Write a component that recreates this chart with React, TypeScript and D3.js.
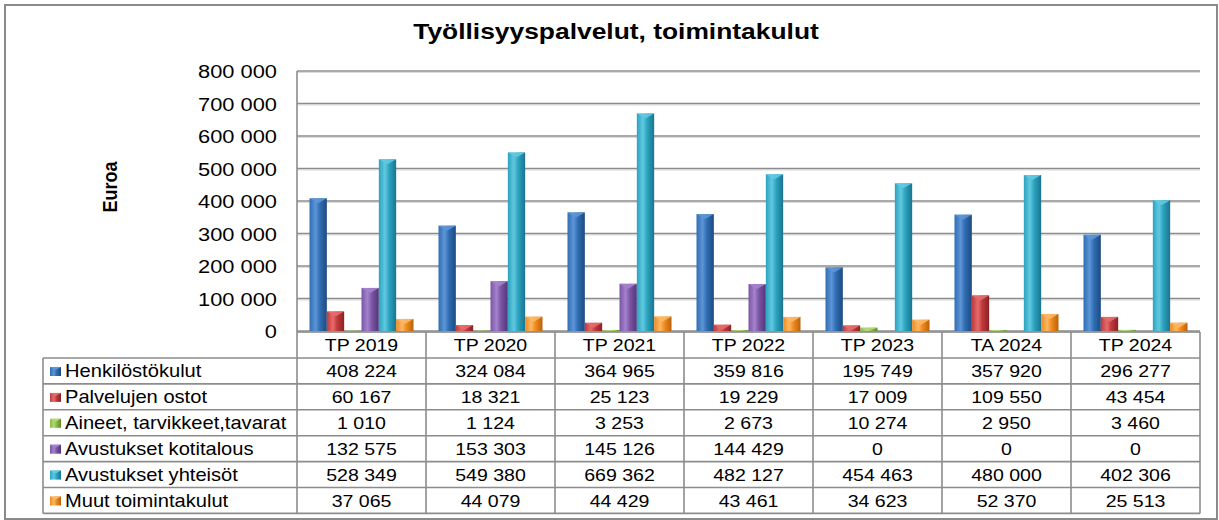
import React from 'react';
import * as d3 from 'd3';

const categories = ['TP 2019', 'TP 2020', 'TP 2021', 'TP 2022', 'TP 2023', 'TA 2024', 'TP 2024'];
const seriesNames = [
  'Henkilöstökulut',
  'Palvelujen ostot',
  'Aineet, tarvikkeet,tavarat',
  'Avustukset kotitalous',
  'Avustukset yhteisöt',
  'Muut toimintakulut',
];
const henkilosto = [408224, 324084, 364965, 359816, 195749, 357920, 296277];
const palvelut = [60167, 18321, 25123, 19229, 17009, 109550, 43454];
const aineet = [1010, 1124, 3253, 2673, 10274, 2950, 3460];
const kotitalous = [132575, 153303, 145126, 144429, 0, 0, 0];
const yhteisot = [528349, 549380, 669362, 482127, 454463, 480000, 402306];
const muut = [37065, 44079, 44429, 43461, 34623, 52370, 25513];
const seriesValues = [henkilosto, palvelut, aineet, kotitalous, yhteisot, muut];
const yTicks = [0, 100000, 200000, 300000, 400000, 500000, 600000, 700000, 800000];

// base, light, dark
const palette = [
  ['#2f6db3', '#5d95d6', '#1d4a80'],
  ['#c0393b', '#e56c6c', '#8a2224'],
  ['#8bb843', '#b3d877', '#5f8a25'],
  ['#7a55a5', '#a482cc', '#553477'],
  ['#2aa3bf', '#62c9e0', '#1b7490'],
  ['#f08a1d', '#fbb866', '#b8620c'],
];

const fmt = (v: number) => d3.format(',')(v).replace(/,/g, ' ');
const SX = 1.15;

const plotL = 297;
const plotR = 1200;
const plotT = 71;
const plotB = 331;
const legendL = 43;
const headTop = 332;
const headBot = 358;
const rowH = 25.9;

export default function App() {
  const x = d3.scaleBand<string>().domain(categories).range([plotL, plotR]);
  const y = d3.scaleLinear().domain([0, 800000]).range([plotB, plotT]);
  const inner = d3
    .scaleBand<number>()
    .domain(d3.range(seriesNames.length))
    .range([12.5, x.bandwidth() - 12.5]);

  const tableBot = headBot + rowH * seriesNames.length;
  const font = 'Arial, "Liberation Sans", sans-serif';

  const sText = (
    key: string,
    tx: number,
    ty: number,
    s: string,
    anchor: string,
    size = 17
  ) => (
    <text
      key={key}
      transform={`translate(${tx},${ty}) scale(${SX},1)`}
      textAnchor={anchor}
      fontSize={size}
      fill="#000"
    >
      {s}
    </text>
  );

  return (
    <svg
      width={1219}
      height={520}
      style={{ position: 'absolute', left: 0, top: 0, fontFamily: font }}
    >
      <defs>
        {palette.map((c, i) => (
          <linearGradient key={i} id={`g${i}`} x1="0" x2="1" y1="0" y2="0">
            <stop offset="0" stopColor={c[0]} />
            <stop offset="0.35" stopColor={c[1]} />
            <stop offset="0.6" stopColor={c[0]} />
            <stop offset="1" stopColor={c[2]} />
          </linearGradient>
        ))}
      </defs>
      <rect x={0} y={0} width={1219} height={520} fill="#fff" />
      <rect x={5} y={5} width={1212} height={514} fill="none" stroke="#8a8a8a" strokeWidth={2} />

      <text
        transform={`translate(616,39) scale(1.2,1)`}
        textAnchor="middle"
        fontSize={22}
        fontWeight="bold"
      >
        Työllisyyspalvelut, toimintakulut
      </text>

      <text
        transform={`translate(117,187) rotate(-90) scale(1,1.15)`}
        textAnchor="middle"
        fontSize={18}
        fontWeight="bold"
      >
        Euroa
      </text>

      {/* gridlines */}
      {yTicks.map((t) => (
        <g key={t}>
          <line x1={plotL} x2={plotR} y1={y(t) + 1.5} y2={y(t) + 1.5} stroke="#dcdcdc" strokeWidth={1} />
          <line x1={plotL} x2={plotR} y1={y(t)} y2={y(t)} stroke="#8c8c8c" strokeWidth={1.6} />
        </g>
      ))}
      <line x1={plotL} x2={plotL} y1={plotT} y2={tableBot} stroke="#8c8c8c" strokeWidth={1.6} />

      {yTicks.map((t) =>
        sText(`t${t}`, 277, y(t) + 7, t === 0 ? '0' : fmt(t), 'end', 19)
      )}

      {/* bars */}
      {categories.map((c, ci) =>
        seriesValues.map((vals, si) => {
          const v = vals[ci];
          if (v <= 0) return null;
          const bx = (x(c) as number) + (inner(si) as number);
          const bw = inner.bandwidth();
          const by = y(v);
          const bh = plotB - by;
          const cap = Math.min(5, bh);
          return (
            <g key={`${ci}-${si}`}>
              <rect x={bx} y={by} width={bw} height={bh} fill={`url(#g${si})`} />
              <polygon
                points={`${bx},${by} ${bx + bw},${by} ${bx + bw / 2},${by + cap}`}
                fill={palette[si][1]}
                opacity={0.9}
              />
            </g>
          );
        })
      )}

      {/* data table */}
      <g stroke="#8c8c8c" strokeWidth={1.6} fill="none">
        <line x1={plotL} x2={plotR} y1={headTop} y2={headTop} />
        {d3.range(seriesNames.length + 1).map((r) => (
          <line key={r} x1={legendL} x2={plotR} y1={headBot + r * rowH} y2={headBot + r * rowH} />
        ))}
        <line x1={legendL} x2={legendL} y1={headBot} y2={tableBot} />
        {categories.map((c) => (
          <line
            key={c}
            x1={(x(c) as number) + x.bandwidth()}
            x2={(x(c) as number) + x.bandwidth()}
            y1={headTop}
            y2={tableBot}
          />
        ))}
      </g>

      {categories.map((c) =>
        sText(`h${c}`, (x(c) as number) + x.bandwidth() / 2, headTop + 19, c, 'middle')
      )}

      {seriesNames.map((name, si) => {
        const ry = headBot + si * rowH;
        return (
          <g key={name}>
            <rect x={50} y={ry + 9} width={11} height={9} fill={`url(#g${si})`} />
            <polygon points={`50,${ry + 9} 61,${ry + 9} 55.5,${ry + 12}`} fill={palette[si][1]} />
            {sText(`l${si}`, 65, ry + 19, name, 'start', 17.5)}
            {categories.map((c, ci) =>
              sText(
                `v${si}-${ci}`,
                (x(c) as number) + x.bandwidth() / 2,
                ry + 19,
                fmt(seriesValues[si][ci]),
                'middle'
              )
            )}
          </g>
        );
      })}
    </svg>
  );
}
